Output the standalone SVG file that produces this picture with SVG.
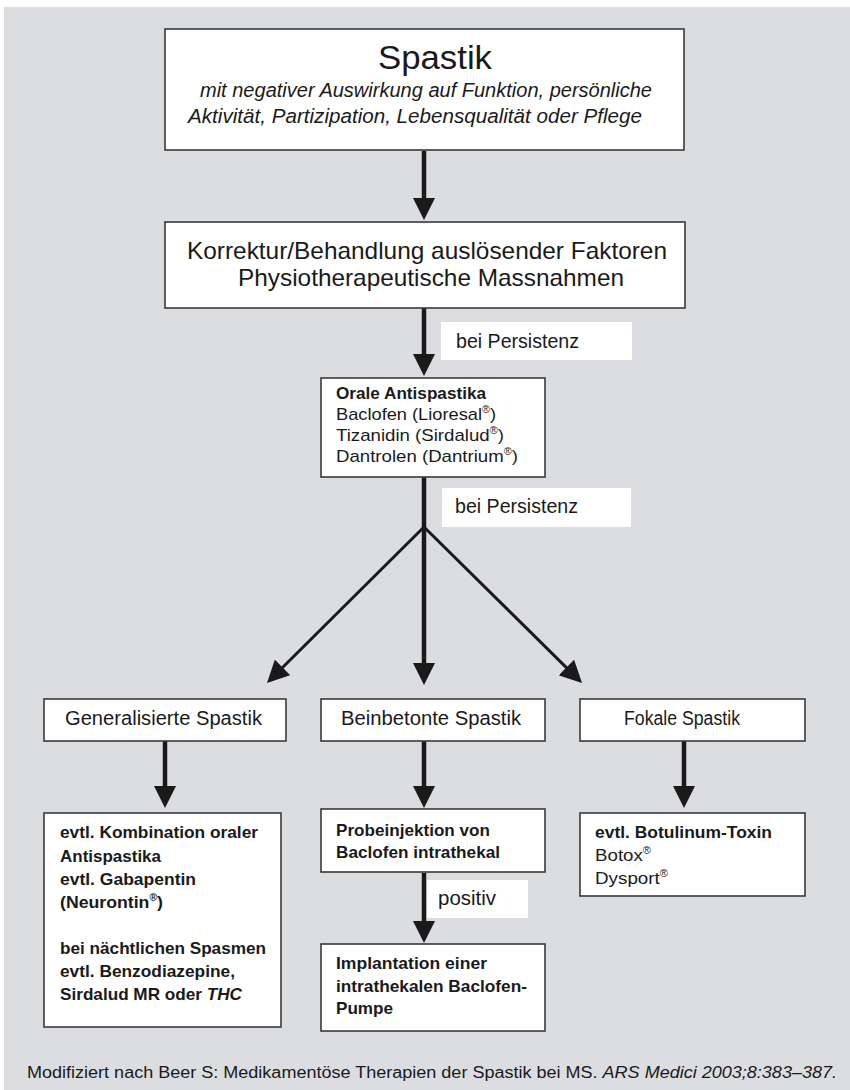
<svg xmlns="http://www.w3.org/2000/svg" width="850" height="1090" viewBox="0 0 850 1090">
<style>
text{font-family:"Liberation Sans",Arial,Helvetica,sans-serif;fill:#1a1a1a}
.box{fill:#fff;stroke:#3a3a3a;stroke-width:1.6}
.lbl{fill:#fff;stroke:none}
.b{font-weight:bold}
.i{font-style:italic}
.s17{font-size:17px}
.s19{font-size:19.5px}
.conn{stroke:#1a1a1a;fill:none}
.thick{stroke-width:4.5}
.thin{stroke-width:3}
</style>
<defs>
<marker id="ah" viewBox="0 0 22 22" refX="10" refY="11" markerWidth="22" markerHeight="22" markerUnits="userSpaceOnUse" orient="auto">
<path d="M0,0 L22,11 L0,22 z" fill="#1a1a1a"/>
</marker>
</defs>
<rect x="4" y="7" width="846" height="1083" fill="#dcdde0"/>

<g id="connectors">
<line class="conn thick" x1="424" y1="151" x2="424" y2="208" marker-end="url(#ah)"/>
<line class="conn thick" x1="424" y1="308" x2="424" y2="364" marker-end="url(#ah)"/>
<line class="conn thick" x1="424" y1="477" x2="424" y2="673" marker-end="url(#ah)"/>
<line class="conn thin" x1="424" y1="527" x2="275.5" y2="674.5" marker-end="url(#ah)"/>
<line class="conn thin" x1="424" y1="527" x2="573.5" y2="674.6" marker-end="url(#ah)"/>
<line class="conn thick" x1="165" y1="741" x2="165" y2="796" marker-end="url(#ah)"/>
<line class="conn thick" x1="424" y1="741" x2="424" y2="796" marker-end="url(#ah)"/>
<line class="conn thick" x1="684" y1="741" x2="684" y2="796" marker-end="url(#ah)"/>
<line class="conn thick" x1="424" y1="873" x2="424" y2="931" marker-end="url(#ah)"/>
</g>

<g id="label-persistenz-1">
<rect class="lbl" x="441" y="322" width="191" height="38"/>
<text class="s19" x="456" y="348" textLength="123" lengthAdjust="spacingAndGlyphs">bei Persistenz</text>
</g>
<g id="label-persistenz-2">
<rect class="lbl" x="442" y="488" width="189" height="39"/>
<text class="s19" x="455" y="513" textLength="123" lengthAdjust="spacingAndGlyphs">bei Persistenz</text>
</g>
<g id="label-positiv">
<rect class="lbl" x="427" y="880" width="101" height="38"/>
<text x="438" y="905" font-size="20" textLength="58" lengthAdjust="spacingAndGlyphs">positiv</text>
</g>

<g id="spastik">
<rect class="box" x="165" y="29" width="519" height="121"/>
<text x="378" y="69" font-size="34" textLength="114" lengthAdjust="spacingAndGlyphs">Spastik</text>
<text class="i" x="200" y="97" font-size="19.5" textLength="452" lengthAdjust="spacingAndGlyphs">mit negativer Auswirkung auf Funktion, persönliche</text>
<text class="i" x="188" y="123" font-size="19.5" textLength="454" lengthAdjust="spacingAndGlyphs">Aktivität, Partizipation, Lebensqualität oder Pflege</text>
</g>

<g id="korrektur">
<rect class="box" x="165" y="222" width="520" height="86"/>
<text x="187" y="259" font-size="24" textLength="480" lengthAdjust="spacingAndGlyphs">Korrektur/Behandlung auslösender Faktoren</text>
<text x="238" y="286" font-size="24" textLength="386" lengthAdjust="spacingAndGlyphs">Physiotherapeutische Massnahmen</text>
</g>

<g id="orale">
<rect class="box" x="321" y="378" width="224" height="99"/>
<text class="s17 b" x="336" y="399" textLength="150" lengthAdjust="spacingAndGlyphs">Orale Antispastika</text>
<text class="s17" x="336" y="420" textLength="160" lengthAdjust="spacingAndGlyphs">Baclofen (Lioresal<tspan font-size="10" dy="-7">®</tspan><tspan dy="7">)</tspan></text>
<text class="s17" x="336" y="441" textLength="168" lengthAdjust="spacingAndGlyphs">Tizanidin (Sirdalud<tspan font-size="10" dy="-7">®</tspan><tspan dy="7">)</tspan></text>
<text class="s17" x="336" y="462" textLength="182" lengthAdjust="spacingAndGlyphs">Dantrolen (Dantrium<tspan font-size="10" dy="-7">®</tspan><tspan dy="7">)</tspan></text>
</g>

<g id="generalisiert">
<rect class="box" x="44" y="699" width="242" height="42"/>
<text class="s19" x="65" y="725" textLength="197" lengthAdjust="spacingAndGlyphs">Generalisierte Spastik</text>
</g>
<g id="beinbetont">
<rect class="box" x="321" y="699" width="224" height="42"/>
<text class="s19" x="341" y="725" textLength="180" lengthAdjust="spacingAndGlyphs">Beinbetonte Spastik</text>
</g>
<g id="fokal">
<rect class="box" x="580" y="699" width="225" height="42"/>
<text class="s19" x="624" y="725" textLength="116" lengthAdjust="spacingAndGlyphs">Fokale Spastik</text>
</g>

<g id="kombination">
<rect class="box" x="44" y="813" width="237" height="214"/>
<text class="s17 b" x="60" y="838" textLength="198" lengthAdjust="spacingAndGlyphs">evtl. Kombination oraler</text>
<text class="s17 b" x="60" y="862" textLength="101" lengthAdjust="spacingAndGlyphs">Antispastika</text>
<text class="s17 b" x="60" y="885" textLength="136" lengthAdjust="spacingAndGlyphs">evtl. Gabapentin</text>
<text class="s17 b" x="60" y="908" textLength="103" lengthAdjust="spacingAndGlyphs">(Neurontin<tspan font-size="10" dy="-7">®</tspan><tspan dy="7">)</tspan></text>
<text class="s17 b" x="60" y="954" textLength="206" lengthAdjust="spacingAndGlyphs">bei nächtlichen Spasmen</text>
<text class="s17 b" x="60" y="977" textLength="175" lengthAdjust="spacingAndGlyphs">evtl. Benzodiazepine,</text>
<text class="s17 b" x="60" y="1000" textLength="182" lengthAdjust="spacingAndGlyphs">Sirdalud MR oder <tspan class="i">THC</tspan></text>
</g>

<g id="probeinjektion">
<rect class="box" x="321" y="809" width="224" height="63"/>
<text class="s17 b" x="336" y="836" textLength="154" lengthAdjust="spacingAndGlyphs">Probeinjektion von</text>
<text class="s17 b" x="336" y="858" textLength="164" lengthAdjust="spacingAndGlyphs">Baclofen intrathekal</text>
</g>

<g id="implantation">
<rect class="box" x="321" y="944" width="224" height="87"/>
<text class="s17 b" x="336" y="969" textLength="151" lengthAdjust="spacingAndGlyphs">Implantation einer</text>
<text class="s17 b" x="336" y="992" textLength="191" lengthAdjust="spacingAndGlyphs">intrathekalen Baclofen-</text>
<text class="s17 b" x="336" y="1014" textLength="57" lengthAdjust="spacingAndGlyphs">Pumpe</text>
</g>

<g id="botulinum">
<rect class="box" x="580" y="813" width="225" height="83"/>
<text class="s17 b" x="595" y="838" textLength="177" lengthAdjust="spacingAndGlyphs">evtl. Botulinum-Toxin</text>
<text class="s17" x="595" y="861" textLength="56" lengthAdjust="spacingAndGlyphs">Botox<tspan font-size="10" dy="-7">®</tspan></text>
<text class="s17" x="595" y="884" textLength="73" lengthAdjust="spacingAndGlyphs">Dysport<tspan font-size="10" dy="-7">®</tspan></text>
</g>

<g id="caption">
<text x="27" y="1078" font-size="16" textLength="810" lengthAdjust="spacingAndGlyphs">Modifiziert nach Beer S: Medikamentöse Therapien der Spastik bei MS. <tspan class="i">ARS Medici 2003;8:383–387.</tspan></text>
</g>
</svg>
